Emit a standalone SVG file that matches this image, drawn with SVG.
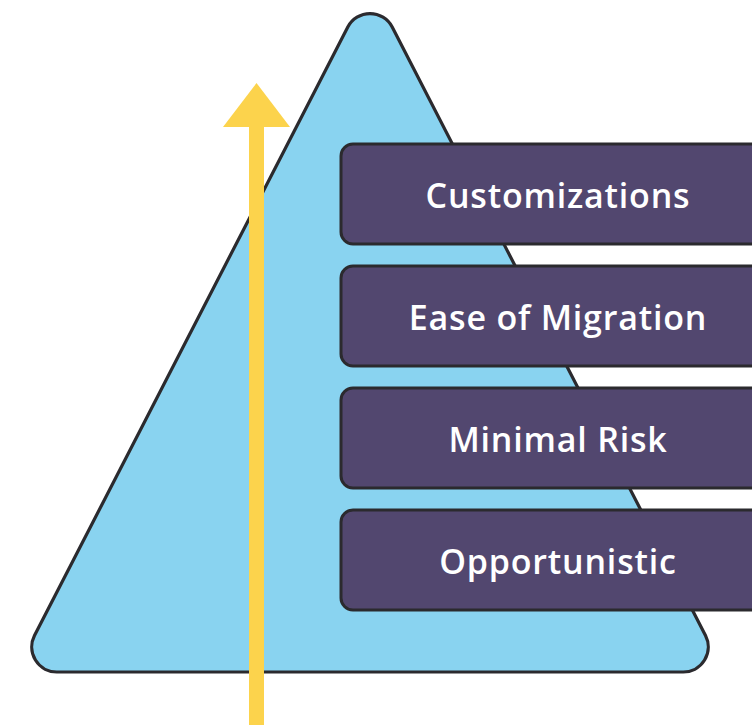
<svg xmlns="http://www.w3.org/2000/svg" width="752" height="725" viewBox="0 0 752 725">
  <style>
    .box { fill: #52476f; stroke: #2b2a2e; stroke-width: 3; }
    .label { font-family: "Open Sans", "Liberation Sans", sans-serif; font-weight: 600; font-size: 34px; letter-spacing: 0.8px; fill: #ffffff; text-anchor: middle; }
  </style>
  <rect width="752" height="725" fill="#ffffff"/>
  <g id="pyramid">
    <path d="M 347.8,27.1 A 25 25 0 0 1 392.2,27.1 L 705.5,635.6 A 25 25 0 0 1 683.3,672 L 56.7,672 A 25 25 0 0 1 34.5,635.6 Z" fill="#89d3f0" stroke="#2b2a2e" stroke-width="3.2" stroke-linejoin="round"/>
  </g>
  <g id="node-customizations">
    <rect class="box" x="341" y="144" width="440" height="100" rx="12"/>
    <text class="label" x="558" y="208">Customizations</text>
  </g>
  <g id="node-ease-of-migration">
    <rect class="box" x="341" y="266" width="440" height="100" rx="12"/>
    <text class="label" x="558" y="330">Ease of Migration</text>
  </g>
  <g id="node-minimal-risk">
    <rect class="box" x="341" y="388" width="440" height="100" rx="12"/>
    <text class="label" x="558" y="452">Minimal Risk</text>
  </g>
  <g id="node-opportunistic">
    <rect class="box" x="341" y="510" width="440" height="100" rx="12"/>
    <text class="label" x="558" y="574">Opportunistic</text>
  </g>
  <g id="connectors">
    <rect x="249" y="125" width="15" height="600" fill="#fcd34c"/>
    <polygon points="256.5,83 290,127 223,127" fill="#fcd34c"/>
  </g>
</svg>
